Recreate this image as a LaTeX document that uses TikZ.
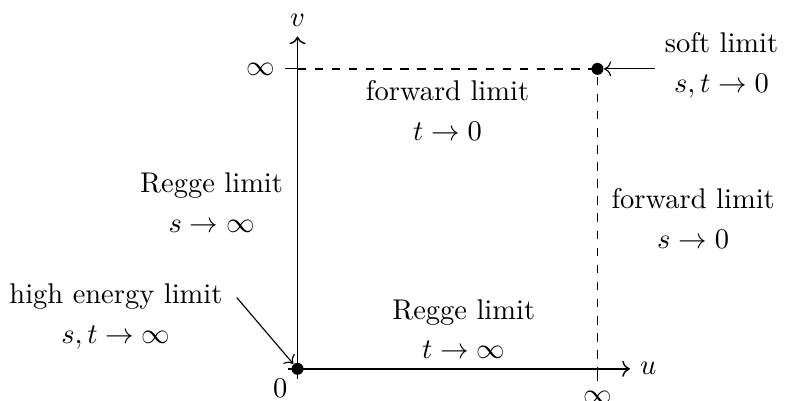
\documentclass[tikz,border=0pt]{standalone}
\usepackage{amsmath,amssymb}
\usepackage{tikz}
\usetikzlibrary{arrows.meta,positioning,calc}
\tikzset{axis/.style={->,line width=0.5pt},
  bound/.style={dashed,line width=0.5pt},
  lim/.style={align=center,font=\normalsize},
  pt/.style={circle,fill=black,inner sep=0pt,minimum size=4.2pt}}

\begin{document}
\begin{tikzpicture}[x=1cm,y=1cm]
\useasboundingbox (-3.67,-0.39) rectangle (6.05,4.55);
\draw[axis] (-0.12,0) -- (4.1,0) node[right] (u) {$u$};
\draw[axis] (0,-0.12) -- (0,4.1) node[above] (v) {$v$};
\draw (-0.15,3.7) -- (0,3.7) node[pos=0,left] (vinf) {$\infty$};
\draw (3.7,0) -- (3.7,-0.15) node[below] (uinf) {$\infty$};
\node[below left] (zero) at (0,0) {0};
\node[pt] (o) at (0,0) {};
\node[pt] (s) at (3.7,3.7) {};
\draw[bound] (0,3.7) -- (s.center) -- (3.7,0);
\node[lim] (fwdt) at (1.85,3.19) {forward limit\\[2pt]$t\to 0$};
\node[lim] (regs) at (-1.06,2.05) {Regge limit\\[2pt]$s\to\infty$};
\node[lim] (fwds) at (4.88,1.85) {forward limit\\[2pt]$s\to 0$};
\node[lim] (regt) at (2.05,0.49) {Regge limit\\[2pt]$t\to\infty$};
\node[lim] (soft) at (5.23,3.74) {soft limit\\[2pt]$s,t\to 0$};
\node[lim] (high) at (-2.24,0.65) {high energy limit\\[2pt]$s,t\to\infty$};
\coordinate (hightail) at (-0.75,0.88);
\draw[->] (soft.west |- s) -- (s);
\draw[->] (hightail) -- (o);
\end{tikzpicture}
\end{document}
